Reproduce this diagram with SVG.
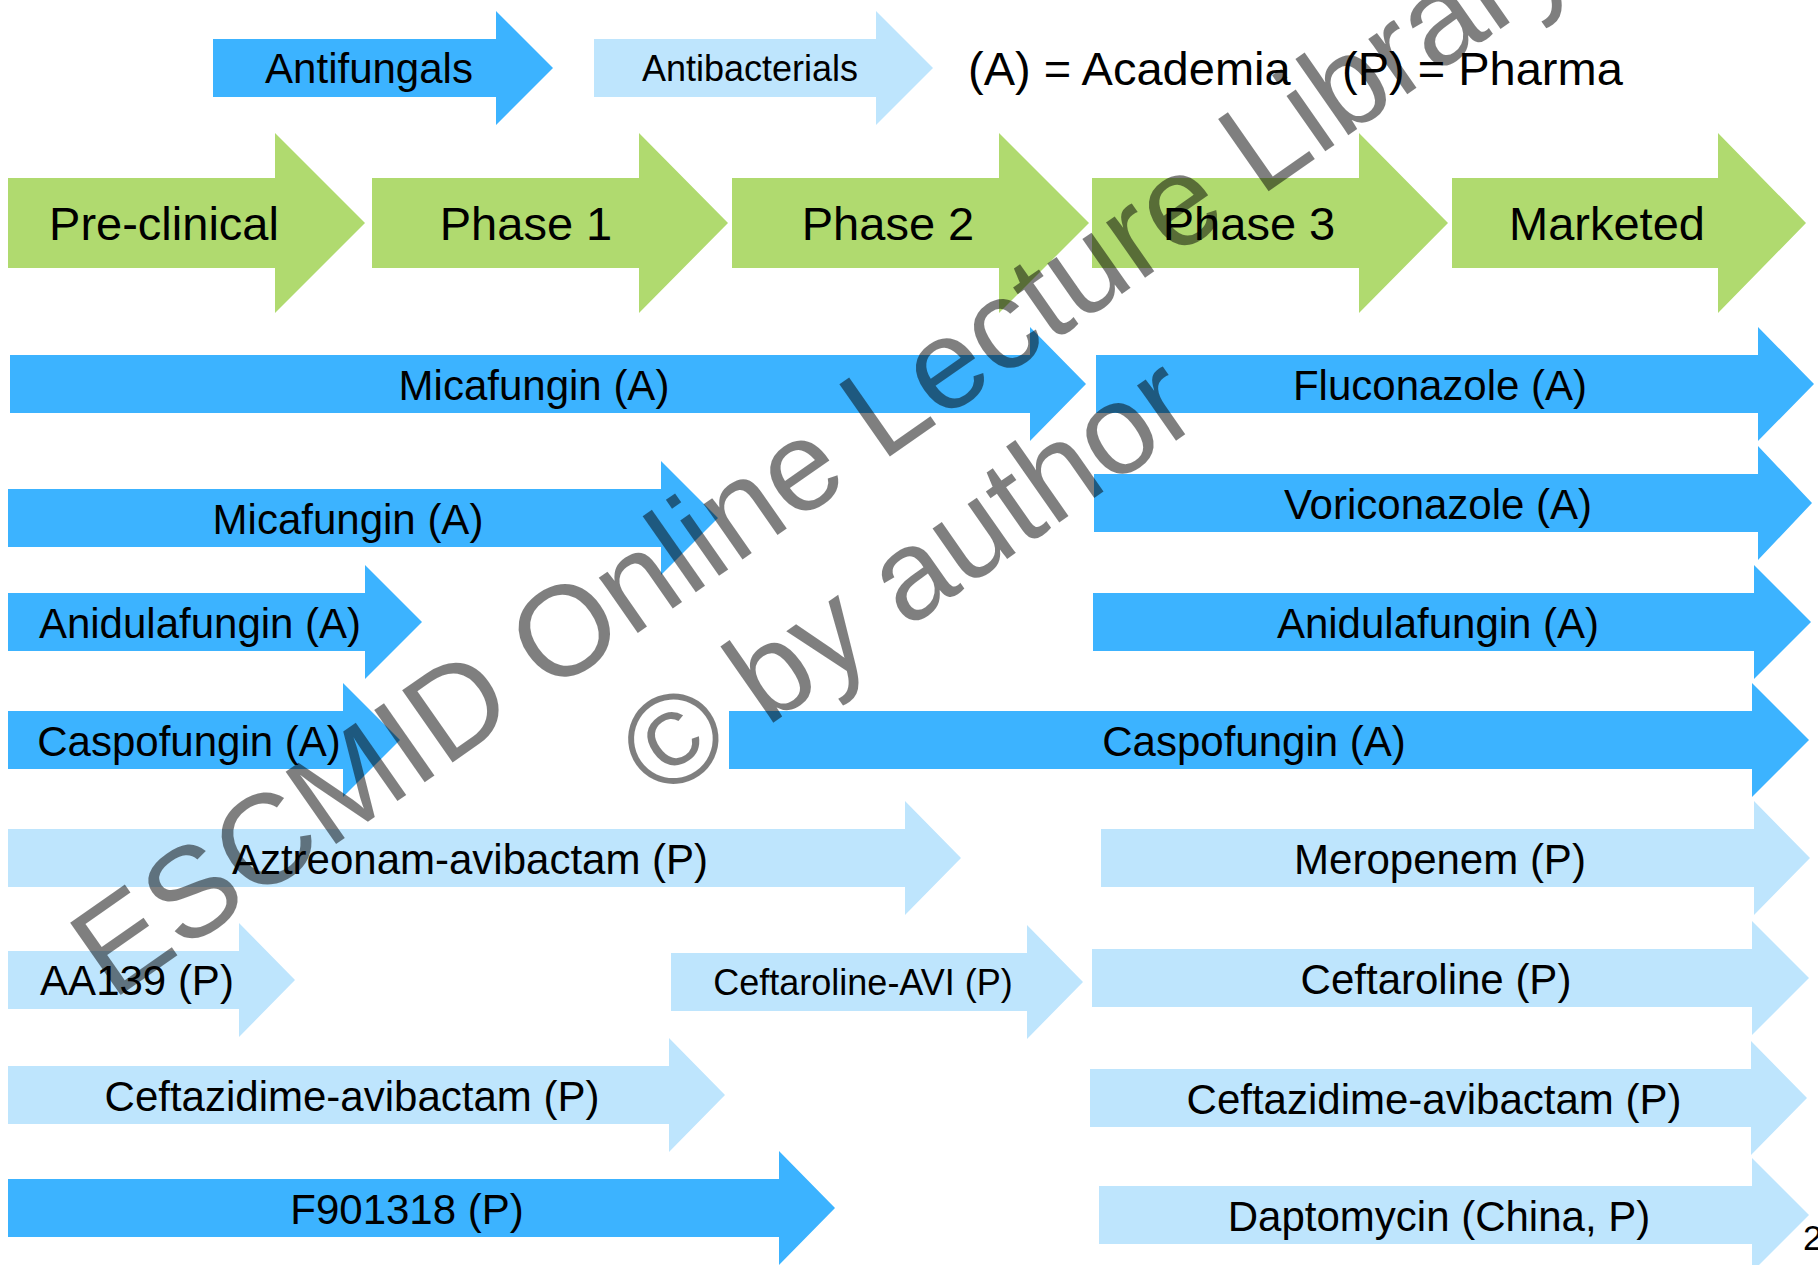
<svg xmlns="http://www.w3.org/2000/svg" width="1818" height="1265" viewBox="0 0 1818 1265">
<style>
.b{fill:#3CB3FF}
.l{fill:#BEE5FD}
.g{fill:#B0DA6F}
text{font-family:"Liberation Sans",Arial,sans-serif;fill:#000;text-anchor:middle}
.t42{font-size:42px}
.t36{font-size:36px}
.t47{font-size:47px}
.wm{font-size:128px;fill:#000;fill-opacity:0.5;text-anchor:start}
</style>
<rect width="1818" height="1265" fill="#fff"/>
<g id="legend-antifungals"><path class="b" d="M213,39 H496 V11 L553,68 L496,125 V97 H213 Z"/><text class="t42" x="369" y="83">Antifungals</text></g>
<g id="legend-antibacterials"><path class="l" d="M594,39 H876 V11 L933,68 L876,125 V97 H594 Z"/><text class="t36" x="750" y="81">Antibacterials</text></g>
<g id="legend-key"><text class="t47" style="text-anchor:start" x="968" y="85">(A) = Academia</text><text class="t47" style="text-anchor:start" x="1342" y="85">(P) = Pharma</text></g>

<g id="phase-preclinical"><path class="g" d="M8,178 H275 V133 L365,223 L275,313 V268 H8 Z"/><text class="t47" x="164" y="240">Pre-clinical</text></g>
<g id="phase-1"><path class="g" d="M372,178 H639 V133 L728,223 L639,313 V268 H372 Z"/><text class="t47" x="526" y="240">Phase 1</text></g>
<g id="phase-2"><path class="g" d="M732,178 H999 V133 L1089,223 L999,313 V268 H732 Z"/><text class="t47" x="888" y="240">Phase 2</text></g>
<g id="phase-3"><path class="g" d="M1092,178 H1359 V133 L1448,223 L1359,313 V268 H1092 Z"/><text class="t47" x="1249" y="240">Phase 3</text></g>
<g id="phase-marketed"><path class="g" d="M1452,178 H1718 V133 L1806,223 L1718,313 V268 H1452 Z"/><text class="t47" x="1607" y="240">Marketed</text></g>

<g id="micafungin-1"><path class="b" d="M10,355 H1030 V327 L1086,384 L1030,441 V413 H10 Z"/><text class="t42" x="534" y="400">Micafungin (A)</text></g>
<g id="fluconazole"><path class="b" d="M1096,355 H1758 V327 L1814,384 L1758,441 V413 H1096 Z"/><text class="t42" x="1440" y="400">Fluconazole (A)</text></g>
<g id="micafungin-2"><path class="b" d="M8,489 H661 V461 L718,518 L661,575 V547 H8 Z"/><text class="t42" x="348" y="534">Micafungin (A)</text></g>
<g id="voriconazole"><path class="b" d="M1094,474 H1758 V446 L1812,503 L1758,560 V532 H1094 Z"/><text class="t42" x="1438" y="519">Voriconazole (A)</text></g>
<g id="anidulafungin-1"><path class="b" d="M8,593 H365 V565 L422,622 L365,679 V651 H8 Z"/><text class="t42" x="200" y="638">Anidulafungin (A)</text></g>
<g id="anidulafungin-2"><path class="b" d="M1093,593 H1754 V565 L1811,622 L1754,679 V651 H1093 Z"/><text class="t42" x="1438" y="638">Anidulafungin (A)</text></g>
<g id="caspofungin-1"><path class="b" d="M8,711 H343 V683 L400,740 L343,797 V769 H8 Z"/><text class="t42" x="189" y="756">Caspofungin (A)</text></g>
<g id="caspofungin-2"><path class="b" d="M729,711 H1752 V683 L1809,740 L1752,797 V769 H729 Z"/><text class="t42" x="1254" y="756">Caspofungin (A)</text></g>
<g id="aztreonam-avibactam"><path class="l" d="M8,829 H905 V801 L961,858 L905,915 V887 H8 Z"/><text class="t42" x="470" y="874">Aztreonam-avibactam (P)</text></g>
<g id="meropenem"><path class="l" d="M1101,829 H1754 V801 L1810,858 L1754,915 V887 H1101 Z"/><text class="t42" x="1440" y="874">Meropenem (P)</text></g>
<g id="aa139"><path class="l" d="M8,951 H239 V923 L295,980 L239,1037 V1009 H8 Z"/><text class="t42" x="137" y="995">AA139 (P)</text></g>
<g id="ceftaroline-avi"><path class="l" d="M671,953 H1027 V925 L1083,982 L1027,1039 V1011 H671 Z"/><text class="t36" x="863" y="995">Ceftaroline-AVI (P)</text></g>
<g id="ceftaroline"><path class="l" d="M1092,949 H1752 V921 L1809,978 L1752,1035 V1007 H1092 Z"/><text class="t42" x="1436" y="994">Ceftaroline (P)</text></g>
<g id="ceftazidime-avibactam-1"><path class="l" d="M8,1066 H669 V1038 L725,1095 L669,1152 V1124 H8 Z"/><text class="t42" x="352" y="1111">Ceftazidime-avibactam (P)</text></g>
<g id="ceftazidime-avibactam-2"><path class="l" d="M1090,1069 H1751 V1041 L1807,1098 L1751,1155 V1127 H1090 Z"/><text class="t42" x="1434" y="1114">Ceftazidime-avibactam (P)</text></g>
<g id="f901318"><path class="b" d="M8,1179 H779 V1151 L835,1208 L779,1265 V1237 H8 Z"/><text class="t42" x="407" y="1224">F901318 (P)</text></g>
<g id="daptomycin"><path class="l" d="M1099,1186 H1752 V1158 L1809,1215 L1752,1272 V1244 H1099 Z"/><text class="t42" x="1439" y="1231">Daptomycin (China, P)</text></g>

<g id="connectors"/>

<g id="page-number"><text style="font-size:35px;text-anchor:start" x="1803" y="1250">2</text></g>

<g id="watermark">
<text class="wm" transform="translate(112,1001) rotate(-35)">ESCMID Online Lecture Library</text>
<text class="wm" transform="translate(660,802) rotate(-35)">© by author</text>
</g>
</svg>
